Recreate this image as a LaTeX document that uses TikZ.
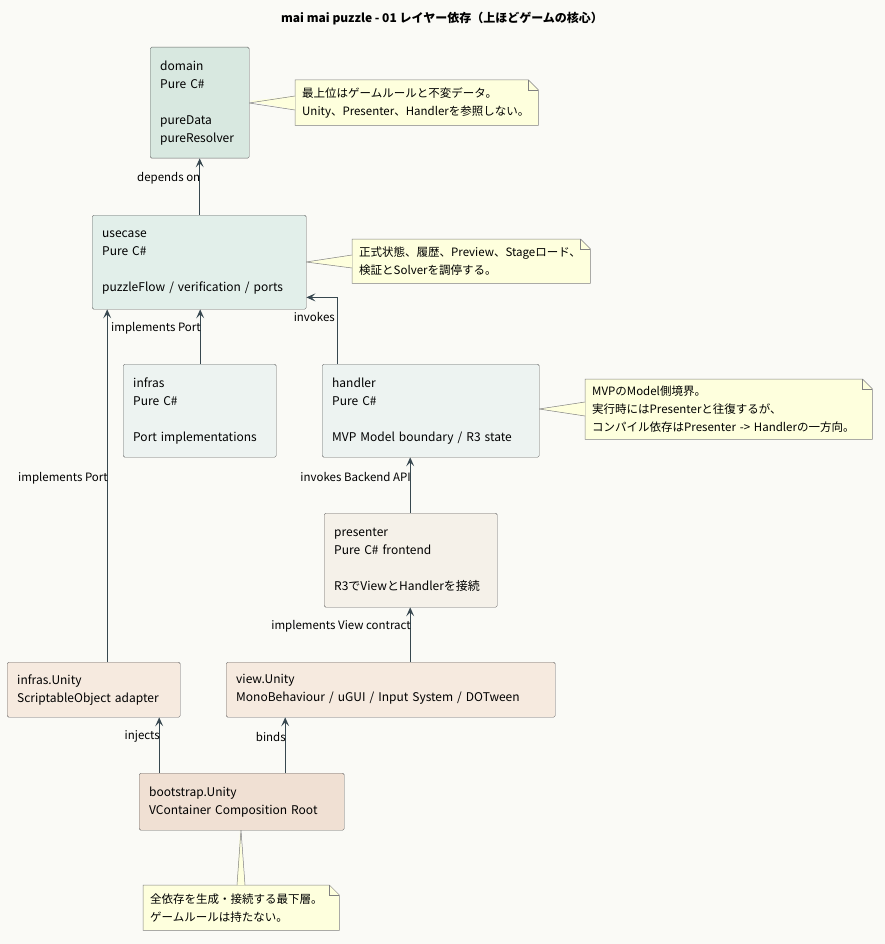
\documentclass[tikz,border=0pt]{standalone}
\usepackage{fontspec}
\setmainfont{Noto Sans CJK JP}
\usetikzlibrary{arrows.meta,positioning,backgrounds}
\definecolor{bgc}{HTML}{FAFAF6}
\definecolor{linec}{HTML}{37474F}
\definecolor{notec}{HTML}{FEFFDD}
\definecolor{cdomain}{HTML}{D8E8E0}
\definecolor{cusecase}{HTML}{E2EFEA}
\definecolor{cinner}{HTML}{EDF3F1}
\definecolor{cpres}{HTML}{F5F1E9}
\definecolor{cunity}{HTML}{F6EADF}
\definecolor{cboot}{HTML}{F0E0D3}
\tikzset{
  layer/.style={draw=black!60, rounded corners=1.5pt, anchor=north west, align=left,
    inner xsep=10pt, inner ysep=6pt, font=\fontsize{12}{18}\selectfont},
  dep/.style={draw=linec, line width=0.9pt, -{Stealth[length=9pt,width=8pt,inset=4pt]}},
  lbl/.style={font=\fontsize{11.5}{13}\selectfont, inner sep=1pt},
  notebox/.style={anchor=north west, align=left, inner xsep=7pt, inner ysep=4pt,
    font=\fontsize{11.5}{18}\selectfont},
  noteline/.style={draw=black!50, fill=notec, line width=0.5pt}
}
\newcommand{\notefold}[1]{%
  \draw[noteline] (#1.north west) -- ([xshift=-10pt]#1.north east) -- ([yshift=-10pt]#1.north east)
    -- (#1.south east) -- (#1.south west) -- cycle;
  \draw[draw=black!50, line width=0.5pt] ([xshift=-10pt]#1.north east) -- ([xshift=-10pt,yshift=-10pt]#1.north east) -- ([yshift=-10pt]#1.north east);}
\begin{document}
\begin{tikzpicture}[x=1pt,y=-1pt]
  \useasboundingbox (0,0) rectangle (885,944);
  \node[font=\bfseries\fontsize{12}{14}\selectfont] (title) at (442,19) {mai mai puzzle - 01 レイヤー依存（上ほどゲームの核心）};

  % layers
  \node[layer, fill=cdomain, text width=79pt, minimum height=111pt] (domain) at (150,47)
    {domain\\Pure C\#\\[18pt]pureData\\pureResolver};
  \node[layer, fill=cusecase, text width=194pt, minimum height=94pt] (usecase) at (92,215)
    {usecase\\Pure C\#\\[18pt]puzzleFlow / verification / ports};
  \node[layer, fill=cinner, text width=133pt, minimum height=93pt] (infras) at (123,364)
    {infras\\Pure C\#\\[18pt]Port implementations};
  \node[layer, fill=cinner, text width=197pt, minimum height=93pt] (handler) at (322,364)
    {handler\\Pure C\#\\[18pt]MVP Model boundary / R3 state};
  \node[layer, fill=cpres, text width=153pt, minimum height=94pt] (presenter) at (324,513)
    {presenter\\Pure C\# frontend\\[18pt]R3でViewとHandlerを接続};
  \node[layer, fill=cunity, text width=153pt, minimum height=55pt] (infrasUnity) at (7,662)
    {infras.Unity\\ScriptableObject adapter};
  \node[layer, fill=cunity, text width=309pt, minimum height=55pt] (viewUnity) at (226,662)
    {view.Unity\\MonoBehaviour / uGUI / Input System / DOTween};
  \node[layer, fill=cboot, text width=185pt, minimum height=57pt] (bootstrap) at (139,773)
    {bootstrap.Unity\\VContainer Composition Root};

  % notes
  \node[notebox, text width=229pt, minimum height=45pt] (noteDomain) at (295,80)
    {最上位はゲームルールと不変データ。\\Unity、Presenter、Handlerを参照しない。};
  \node[notebox, text width=224pt, minimum height=44pt] (noteUsecase) at (352,239)
    {正式状態、履歴、Preview、Stageロード、\\検証とSolverを調停する。};
  \node[notebox, text width=273pt, minimum height=60pt] (noteHandler) at (585,379)
    {MVPのModel側境界。\\実行時にはPresenterと往復するが、\\コンパイル依存はPresenter -> Handlerの一方向。};
  \node[notebox, text width=182pt, minimum height=45pt] (noteBoot) at (143,885)
    {全依存を生成・接続する最下層。\\ゲームルールは持たない。};

  \begin{scope}[on background layer]
    \fill[bgc] (0,0) rectangle (885,944);
    \notefold{noteDomain}
    \notefold{noteUsecase}
    \notefold{noteHandler}
    \notefold{noteBoot}
    \fill[notec] (249,101) -- (295,96) -- (295,110) -- cycle;
    \draw[black!50, line width=0.5pt] (295,96) -- (249,103) -- (295,110);
    \fill[notec] (306,262) -- (352,255) -- (352,268) -- cycle;
    \draw[black!50, line width=0.5pt] (352,255) -- (306,262) -- (352,268);
    \fill[notec] (539,409) -- (585,402) -- (585,416) -- cycle;
    \draw[black!50, line width=0.5pt] (585,402) -- (539,409) -- (585,416);
    \fill[notec] (240,830) -- (237,885) -- (245,885) -- cycle;
    \draw[black!50, line width=0.5pt] (237,885) -- (241,830) -- (245,885);
  \end{scope}

  % dependencies
  \draw[dep] (usecase.north -| domain.south) -- node[lbl, pos=0.65, left=-2pt] {depends on} (domain.south);
  \draw[dep] ([xshift=0.5pt]infras.north) -- node[lbl, pos=0.65, left=-2pt] {implements Port} ([xshift=0.5pt]infras.north |- usecase.south);
  \draw[dep] ([xshift=13.5pt]infrasUnity.north) -- node[lbl, pos=0.52, left=-2pt] {implements Port} ([xshift=13.5pt]infrasUnity.north |- usecase.south);
  \draw[dep] ([xshift=-93.5pt]handler.north) |- node[lbl, pos=0.35, left=1pt] {invokes} ([yshift=12pt]usecase.south east);
  \draw[dep] ([xshift=-0.5pt]presenter.north) -- node[lbl, pos=0.65, left=-2pt] {invokes Backend API} ([xshift=-0.5pt]presenter.north |- handler.south);
  \draw[dep] ([xshift=19.5pt]viewUnity.north) -- node[lbl, pos=0.65, left=-2pt] {implements View contract} ([xshift=19.5pt]viewUnity.north |- presenter.south);
  \draw[dep] ([xshift=-82.5pt]bootstrap.north) -- node[lbl, pos=0.65, left=-2pt] {injects} ([xshift=-82.5pt]bootstrap.north |- infrasUnity.south);
  \draw[dep] ([xshift=43.5pt]bootstrap.north) -- node[lbl, pos=0.65, left=-2pt] {binds} ([xshift=43.5pt]bootstrap.north |- viewUnity.south);
\end{tikzpicture}
\end{document}
